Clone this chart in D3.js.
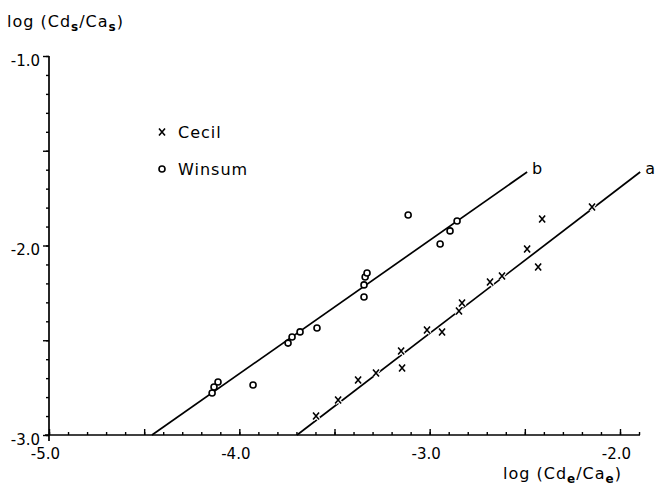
<!DOCTYPE html>
<html>
<head>
<meta charset="utf-8">
<script src="https://cdn.jsdelivr.net/npm/d3@7"></script>
<style>
  html, body { margin: 0; padding: 0; background: #fff; }
  svg { display: block; }
  text { font-family: "DejaVu Sans", sans-serif; fill: #000; }
</style>
</head>
<body>
<svg id="chart" width="657" height="487"></svg>
<script>
// ---- data ----
const cecilX = [-3.597, -3.481, -3.376, -3.282, -3.150, -3.145, -3.014, -2.935, -2.846, -2.830, -2.683, -2.620, -2.488, -2.430, -2.409, -2.147];
const cecilY = [-2.900, -2.815, -2.710, -2.673, -2.557, -2.646, -2.446, -2.456, -2.346, -2.303, -2.193, -2.161, -2.018, -2.113, -1.860, -1.797];
const winsumX = [-4.143, -4.133, -4.112, -3.928, -3.744, -3.723, -3.681, -3.592, -3.345, -3.345, -3.339, -3.329, -3.113, -2.945, -2.893, -2.856];
const winsumY = [-2.778, -2.747, -2.720, -2.736, -2.515, -2.483, -2.456, -2.435, -2.272, -2.208, -2.166, -2.145, -1.839, -1.992, -1.923, -1.871];
const lineAX = [-3.697, -1.894];
const lineAY = [-3.0, -1.612];
const lineBX = [-4.459, -2.488];
const lineBY = [-3.0, -1.612];
const lineNames = ["a", "b"];
const xTickValues = [-5, -4, -3, -2];
const xTickLabels = ["-5.0", "-4.0", "-3.0", "-2.0"];
const yTickValues = [-1, -2, -3];
const yTickLabels = ["-1.0", "-2.0", "-3.0"];
const legendNames = ["Cecil", "Winsum"];
const yTitle = ["log (Cd", "s", "/Ca", "s", ")"];
const xTitle = ["log (Cd", "e", "/Ca", "e", ")"];

// ---- layout ----
const svg = d3.select("#chart");
const x = d3.scaleLinear().domain([-5, -2]).range([49, 620]);
const y = d3.scaleLinear().domain([-3, -1]).range([435, 56]);
const xEnd = -1.895;

const xMinor = d3.range(-50, -18).map(d => d / 10);
const yMinor = d3.range(-30, -9).map(d => d / 10);
const isHalf = v => Math.abs(v * 2 - Math.round(v * 2)) < 1e-6;

const g = svg.append("g");

// x axis (ticks pointing up)
g.append("line").attr("x1", x(-5) - 4).attr("x2", x(xEnd)).attr("y1", y(-3)).attr("y2", y(-3))
  .attr("stroke", "#000").attr("stroke-width", 1.7);
const xAxisMinor = d3.axisBottom(x).tickValues(xMinor).tickSizeInner(-3).tickSizeOuter(0).tickFormat("");
const xAxisMajor = d3.axisBottom(x).tickValues(xMinor.filter(isHalf)).tickSizeInner(-6).tickSizeOuter(0).tickFormat("");
[xAxisMinor, xAxisMajor].forEach(ax => {
  const a = g.append("g").attr("transform", `translate(0,${y(-3)})`).call(ax);
  a.select(".domain").remove();
  a.selectAll("line").attr("stroke", "#000").attr("stroke-width", 1.4);
});
const xLab = d3.axisBottom(x).tickValues(xTickValues).tickSize(0).tickPadding(13)
  .tickFormat((d, i) => xTickLabels[i]);
const xl = g.append("g").attr("transform", `translate(0,${y(-3)})`).call(xLab);
xl.select(".domain").remove();
xl.selectAll("text").attr("font-size", 15).attr("dx", -4).attr("font-family", "DejaVu Sans, sans-serif");

// y axis (ticks pointing left)
g.append("line").attr("x1", x(-5)).attr("x2", x(-5)).attr("y1", y(-1)).attr("y2", y(-3) + 6)
  .attr("stroke", "#000").attr("stroke-width", 1.7);
const yAxisMinor = d3.axisLeft(y).tickValues(yMinor).tickSizeInner(3).tickSizeOuter(0).tickFormat("");
const yAxisMajor = d3.axisLeft(y).tickValues(yMinor.filter(isHalf)).tickSizeInner(6).tickSizeOuter(0).tickFormat("");
[yAxisMinor, yAxisMajor].forEach(ax => {
  const a = g.append("g").attr("transform", `translate(${x(-5)},0)`).call(ax);
  a.select(".domain").remove();
  a.selectAll("line").attr("stroke", "#000").attr("stroke-width", 1.4);
});
const yLab = d3.axisLeft(y).tickValues(yTickValues).tickSize(0).tickPadding(9)
  .tickFormat((d, i) => yTickLabels[i]);
const yl = g.append("g").attr("transform", `translate(${x(-5)},0)`).call(yLab);
yl.select(".domain").remove();
yl.selectAll("text").attr("font-size", 15).attr("dy", "0.62em").attr("font-family", "DejaVu Sans, sans-serif");

// axis titles
function title(parts, tx, ty) {
  const t = svg.append("text").attr("x", tx).attr("y", ty).attr("font-size", 16).attr("letter-spacing", 1);
  parts.forEach((p, i) => {
    const s = t.append("tspan").text(p);
    if (i % 2 === 1) s.attr("font-size", 12).attr("font-weight", "bold").attr("dy", 4);
    else if (i > 0) s.attr("dy", -4);
  });
  return t;
}
title(yTitle, 7, 27);
title(xTitle, 503, 479);

// regression lines
const lineGen = d3.line().x(d => x(d[0])).y(d => y(d[1]));
const lines = [d3.zip(lineAX, lineAY), d3.zip(lineBX, lineBY)];
svg.selectAll(".fit").data(lines).join("path").attr("class", "fit")
  .attr("d", lineGen).attr("fill", "none").attr("stroke", "#000").attr("stroke-width", 1.7);
svg.selectAll(".fitlab").data(lines).join("text").attr("class", "fitlab")
  .attr("x", d => x(d[1][0]) + 5).attr("y", d => y(d[1][1]) + 2)
  .attr("font-size", 16).text((d, i) => lineNames[i]);

// markers
const cross = "M-3,-3.5L3,3.5M3,-3.5L-3,3.5";
const cecil = d3.zip(cecilX, cecilY);
const winsum = d3.zip(winsumX, winsumY);
svg.selectAll(".cx-bg").data(cecil).join("path").attr("class", "cx-bg")
  .attr("transform", d => `translate(${x(d[0])},${y(d[1])})`)
  .attr("d", cross).attr("stroke", "#fff").attr("stroke-width", 4);
svg.selectAll(".cx").data(cecil).join("path").attr("class", "cx")
  .attr("transform", d => `translate(${x(d[0])},${y(d[1])})`)
  .attr("d", cross).attr("stroke", "#000").attr("stroke-width", 1.6);
svg.selectAll(".ws").data(winsum).join("circle").attr("class", "ws")
  .attr("cx", d => x(d[0])).attr("cy", d => y(d[1])).attr("r", 3)
  .attr("fill", "#fff").attr("stroke", "#000").attr("stroke-width", 1.6);

// legend
const leg = svg.append("g").attr("transform", "translate(162,0)");
leg.append("path").attr("transform", "translate(0,132)").attr("d", cross)
  .attr("stroke", "#000").attr("stroke-width", 1.6);
leg.append("circle").attr("cx", 0).attr("cy", 169).attr("r", 3)
  .attr("fill", "#fff").attr("stroke", "#000").attr("stroke-width", 1.6);
leg.selectAll(".lt").data(legendNames).join("text").attr("class", "lt")
  .attr("x", 16).attr("y", (d, i) => i === 0 ? 138 : 175)
  .attr("font-size", 16).attr("letter-spacing", 1).text(d => d);
</script>
</body>
</html>
